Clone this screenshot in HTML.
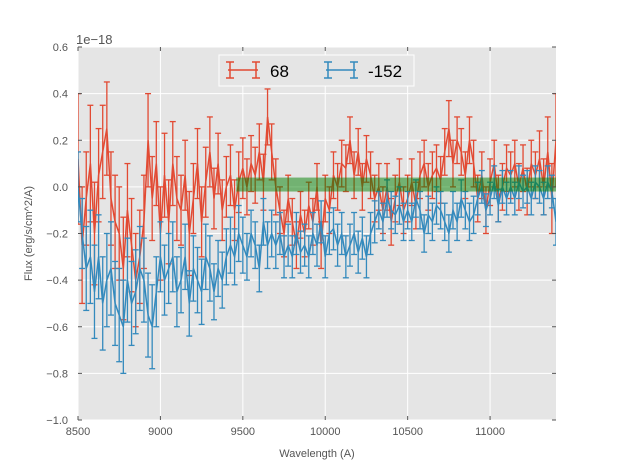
<!DOCTYPE html>
<html><head><meta charset="utf-8"><style>
body{margin:0;background:#fff;}
svg{display:block;font-family:"Liberation Sans",sans-serif;}
</style></head><body>
<svg id="chart" width="617" height="467" viewBox="0 0 617 467"></svg>
<script>
const xStart = 8500, xStep = 25;
const redVals = [0.12,-0.25,-0.05,0.1,-0.2,0.05,0.15,0.25,-0.05,
-0.15,-0.2,-0.35,-0.1,-0.25,-0.4,-0.3,-0.15,
0.2,-0.05,0.1,-0.2,0.05,-0.15,0.1,-0.05,
-0.1,0.05,-0.2,-0.05,0.1,-0.15,0.02,0.15,
-0.05,0.1,-0.1,0.0,0.05,-0.1,0.02,0.08,
0.0,0.1,0.05,0.15,0.02,0.3,0.15,0.0,
-0.1,-0.2,-0.05,-0.15,-0.25,-0.12,-0.2,-0.08,
-0.15,0.0,-0.25,-0.05,-0.1,0.05,0.0,0.1,
0.08,0.2,0.05,0.15,0.0,0.12,0.05,-0.05,
0.0,-0.1,0.0,-0.15,-0.05,0.02,-0.1,-0.05,
0.02,-0.08,0.05,0.1,0.0,0.05,0.08,0.03,
0.15,0.25,0.1,0.2,0.15,0.05,0.2,0.1,
-0.05,0.05,-0.1,0.02,0.1,-0.05,0.0,0.08,
0.05,0.1,0.0,0.08,-0.02,0.1,0.05,0.12,
0.0,0.15,-0.05,0.2];
const blueVals = [0.0,-0.2,-0.35,-0.3,-0.45,-0.3,-0.5,-0.4,-0.35,
-0.5,-0.55,-0.6,-0.4,-0.5,-0.45,-0.35,-0.4,
-0.55,-0.6,-0.45,-0.3,-0.4,-0.35,-0.3,-0.45,
-0.4,-0.3,-0.5,-0.35,-0.4,-0.45,-0.3,-0.35,
-0.45,-0.35,-0.4,-0.3,-0.25,-0.3,-0.2,-0.25,
-0.3,-0.2,-0.25,-0.35,-0.15,-0.25,-0.2,-0.25,
-0.2,-0.3,-0.25,-0.3,-0.2,-0.28,-0.25,-0.3,
-0.2,-0.25,-0.15,-0.3,-0.2,-0.18,-0.25,-0.2,
-0.3,-0.25,-0.2,-0.28,-0.22,-0.3,-0.2,-0.15,
-0.1,-0.15,-0.05,-0.1,-0.12,-0.08,-0.15,-0.1,
-0.15,-0.05,-0.1,-0.2,-0.12,-0.15,-0.08,-0.1,
-0.15,-0.2,-0.1,-0.15,-0.05,-0.1,-0.15,-0.12,
-0.05,0.0,-0.1,-0.05,0.02,-0.08,0.0,-0.05,
0.0,-0.05,0.02,-0.02,0.0,-0.05,0.02,0.0,
-0.05,0.02,-0.02,-0.15];
const redErr = [0.28,0.25,0.2,0.25,0.22,0.2,0.2,0.2,0.2,
0.2,0.2,0.22,0.2,0.2,0.2,0.2,0.2,
0.2,0.18,0.18,0.2,0.18,0.18,0.18,0.18,
0.15,0.15,0.18,0.15,0.15,0.15,0.15,0.15,
0.13,0.13,0.13,0.13,0.13,0.13,0.13,0.13,
0.12,0.12,0.12,0.12,0.12,0.12,0.12,0.12,
0.1,0.1,0.1,0.1,0.1,0.1,0.1,0.1,
0.1,0.1,0.1,0.1,0.1,0.1,0.1,0.1,
0.1,0.1,0.1,0.1,0.1,0.1,0.1,0.1,
0.1,0.1,0.1,0.1,0.1,0.1,0.1,0.1,
0.1,0.1,0.1,0.1,0.1,0.1,0.1,0.1,
0.1,0.12,0.1,0.1,0.1,0.1,0.1,0.1,
0.1,0.1,0.1,0.1,0.1,0.1,0.1,0.1,
0.1,0.1,0.1,0.1,0.1,0.1,0.1,0.12,
0.12,0.15,0.15,0.2];
const blueErr = [0.15,0.15,0.18,0.2,0.2,0.18,0.2,0.2,0.2,
0.18,0.2,0.2,0.18,0.18,0.18,0.18,0.18,
0.18,0.18,0.15,0.15,0.15,0.15,0.15,0.15,
0.14,0.14,0.14,0.14,0.14,0.14,0.14,0.14,
0.12,0.12,0.12,0.12,0.12,0.12,0.12,0.12,
0.1,0.1,0.1,0.1,0.1,0.1,0.1,0.1,
0.09,0.09,0.09,0.09,0.09,0.09,0.09,0.09,
0.09,0.09,0.09,0.09,0.09,0.09,0.09,0.09,
0.09,0.09,0.09,0.09,0.09,0.09,0.09,0.09,
0.08,0.08,0.08,0.08,0.08,0.08,0.08,0.08,
0.08,0.08,0.08,0.08,0.08,0.08,0.08,0.08,
0.08,0.08,0.08,0.08,0.08,0.08,0.08,0.08,
0.07,0.07,0.07,0.07,0.07,0.07,0.07,0.07,
0.07,0.07,0.07,0.07,0.07,0.07,0.07,0.07,
0.07,0.07,0.07,0.1];
const xTicks = [8500,9000,9500,10000,10500,11000];
const yTicks = [0.6,0.4,0.2,0.0,-0.2,-0.4,-0.6,-0.8,-1.0];
const yTickLabels = ["0.6","0.4","0.2","0.0","\u22120.2","\u22120.4","\u22120.6","\u22120.8","\u22121.0"];
const bandRange = [9460, 11400, -0.02, 0.04];

const L=78,R=556,T=47,B=420, xMin=8500,xMax=11400,yMin=-1.0,yMax=0.6;
const sx=v=>L+(v-xMin)/(xMax-xMin)*(R-L);
const sy=v=>B-(v-yMin)/(yMax-yMin)*(B-T);
const svg=document.getElementById('chart');
const NS='http://www.w3.org/2000/svg';
function mk(tag,attrs,parent){const e=document.createElementNS(NS,tag);for(const k in attrs)e.setAttribute(k,attrs[k]);(parent||svg).appendChild(e);return e;}

const bg=mk('rect',{x:L,y:T,width:R-L,height:B-T,fill:'#e5e5e5'});


const grid=mk('g',{stroke:'#fff','stroke-width':1});


xTicks.forEach(t=>mk('line',{x1:sx(t),x2:sx(t),y1:T,y2:B},grid));
yTicks.forEach(t=>mk('line',{x1:L,x2:R,y1:sy(t),y2:sy(t)},grid));

const defs=mk('defs',{});
const clip=mk('clipPath',{id:'clp'},defs);
mk('rect',{x:L,y:T,width:R-L,height:B-T},clip);
const holder=mk('g',{'clip-path':'url(#clp)'});



function series(vals,errs,color,name){
  const g=mk('g',{},holder);
  
  
  const eg=mk('g',{stroke:color,'stroke-width':1.3},g);
  vals.forEach((v,i)=>{
    const x=sx(xStart+i*xStep), y1=sy(v+errs[i]), y2=sy(v-errs[i]);
    mk('line',{x1:x,x2:x,y1:y1,y2:y2},eg);
    mk('line',{x1:x-3,x2:x+3,y1:y1,y2:y1},eg);
    mk('line',{x1:x-3,x2:x+3,y1:y2,y2:y2},eg);
  });
  const pts=vals.map((v,i)=>sx(xStart+i*xStep).toFixed(1)+','+sy(v).toFixed(1)).join(' ');
  mk('polyline',{points:pts,fill:'none',stroke:color,'stroke-width':1.5},g);
}
series(redVals,redErr,'#e24a33','series-68');
series(blueVals,blueErr,'#348abd','series-minus-152');
const band=mk('rect',{x:sx(bandRange[0]),y:sy(bandRange[3]),width:sx(bandRange[1])-sx(bandRange[0]),height:sy(bandRange[2])-sy(bandRange[3]),fill:'#008000','fill-opacity':0.5},holder);



const ticks=mk('g',{fill:'#555','font-size':11});


xTicks.forEach(t=>{const e=mk('text',{x:sx(t),y:B+15,'text-anchor':'middle'},ticks);e.textContent=t;
 mk('line',{x1:sx(t),x2:sx(t),y1:B,y2:B-4,stroke:'#555'});mk('line',{x1:sx(t),x2:sx(t),y1:T,y2:T+4,stroke:'#555'});});
yTicks.forEach((t,i)=>{const e=mk('text',{x:L-10,y:sy(t)+4,'text-anchor':'end'},ticks);e.textContent=yTickLabels[i];
 mk('line',{x1:L,x2:L+4,y1:sy(t),y2:sy(t),stroke:'#555'});mk('line',{x1:R,x2:R-4,y1:sy(t),y2:sy(t),stroke:'#555'});});
const off=mk('text',{x:76,y:44,'font-size':13,fill:'#555'});off.textContent='1e\u221218';


const xl=mk('text',{x:(L+R)/2,y:457,'font-size':11,fill:'#555','text-anchor':'middle'});xl.textContent='Wavelength (A)';


const yl=mk('text',{x:32,y:(T+B)/2,'font-size':11,fill:'#555','text-anchor':'middle',transform:'rotate(-90 32 '+((T+B)/2)+')'});yl.textContent='Flux (erg/s/cm^2/A)';



const lg=mk('g',{});


mk('rect',{x:219,y:55,width:195,height:31,fill:'#e5e5e5',stroke:'#fff','stroke-width':1},lg);
function legendEntry(x,color,label,name){
  const g=mk('g',{stroke:color,'stroke-width':1.5},lg);
  
  
  mk('line',{x1:x,x2:x+30,y1:70,y2:70},g);
  mk('line',{x1:x+2,x2:x+2,y1:62,y2:78},g);mk('line',{x1:x+28,x2:x+28,y1:62,y2:78},g);
  mk('line',{x1:x-2,x2:x+6,y1:62,y2:62},g);mk('line',{x1:x-2,x2:x+6,y1:78,y2:78},g);
  mk('line',{x1:x+24,x2:x+32,y1:62,y2:62},g);mk('line',{x1:x+24,x2:x+32,y1:78,y2:78},g);
  const t=mk('text',{x:x+42,y:77,'font-size':17,fill:'#000',stroke:'none'},lg);t.textContent=label;
}
legendEntry(228,'#e24a33','68','legend-entry-68');
legendEntry(326,'#348abd','-152','legend-entry-minus-152');
</script>
</body></html>
